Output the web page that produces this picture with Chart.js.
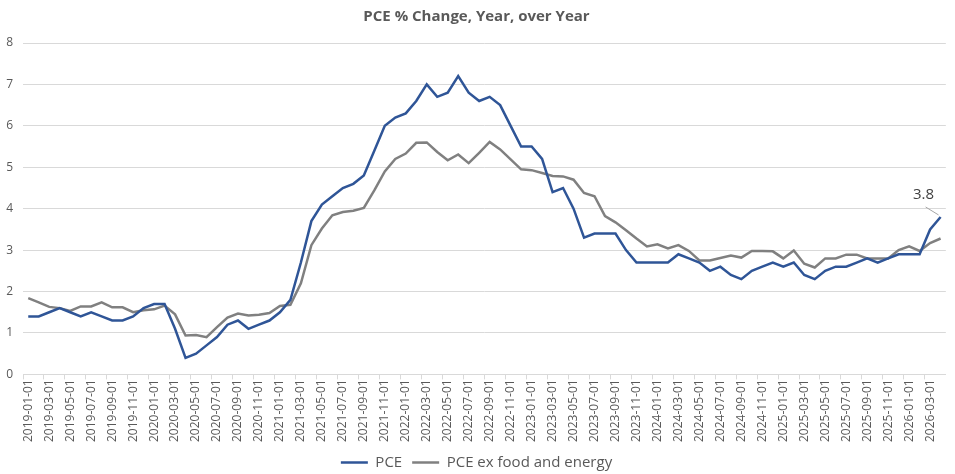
<!DOCTYPE html>
<html>
<head>
<meta charset="utf-8">
<script src="https://cdn.jsdelivr.net/npm/chart.js@4.4.1/dist/chart.umd.min.js"></script>
<style>
  html, body { margin: 0; padding: 0; background: #fff; }
  #wrap { width: 955px; height: 474px; }
</style>
</head>
<body>
<div id="wrap"><canvas id="pceChart"></canvas></div>
<script>
// monthly dates, 2019-01 .. 2026-04
const months = [
    '2019-01-01','2019-02-01','2019-03-01','2019-04-01','2019-05-01','2019-06-01','2019-07-01','2019-08-01','2019-09-01','2019-10-01','2019-11-01','2019-12-01',
    '2020-01-01','2020-02-01','2020-03-01','2020-04-01','2020-05-01','2020-06-01','2020-07-01','2020-08-01','2020-09-01','2020-10-01','2020-11-01','2020-12-01',
    '2021-01-01','2021-02-01','2021-03-01','2021-04-01','2021-05-01','2021-06-01','2021-07-01','2021-08-01','2021-09-01','2021-10-01','2021-11-01','2021-12-01',
    '2022-01-01','2022-02-01','2022-03-01','2022-04-01','2022-05-01','2022-06-01','2022-07-01','2022-08-01','2022-09-01','2022-10-01','2022-11-01','2022-12-01',
    '2023-01-01','2023-02-01','2023-03-01','2023-04-01','2023-05-01','2023-06-01','2023-07-01','2023-08-01','2023-09-01','2023-10-01','2023-11-01','2023-12-01',
    '2024-01-01','2024-02-01','2024-03-01','2024-04-01','2024-05-01','2024-06-01','2024-07-01','2024-08-01','2024-09-01','2024-10-01','2024-11-01','2024-12-01',
    '2025-01-01','2025-02-01','2025-03-01','2025-04-01','2025-05-01','2025-06-01','2025-07-01','2025-08-01','2025-09-01','2025-10-01','2025-11-01','2025-12-01',
    '2026-01-01','2026-02-01','2026-03-01','2026-04-01'
];

const pce = [
    1.4, 1.4, 1.5, 1.6, 1.5, 1.4, 1.5, 1.4, 1.3, 1.3, 1.4, 1.6,
    1.7, 1.7, 1.1, 0.4, 0.5, 0.7, 0.9, 1.2, 1.3, 1.1, 1.2, 1.3,
    1.5, 1.8, 2.7, 3.7, 4.1, 4.3, 4.5, 4.6, 4.8, 5.4, 6.0, 6.2,
    6.3, 6.6, 7.0, 6.7, 6.8, 7.2, 6.8, 6.6, 6.7, 6.5, 6.0, 5.5,
    5.5, 5.2, 4.4, 4.5, 4.0, 3.3, 3.4, 3.4, 3.4, 3.0, 2.7, 2.7,
    2.7, 2.7, 2.9, 2.8, 2.7, 2.5, 2.6, 2.4, 2.3, 2.5, 2.6, 2.7,
    2.6, 2.7, 2.4, 2.3, 2.5, 2.6, 2.6, 2.7, 2.8, 2.7, 2.8, 2.9,
    2.9, 2.9, 3.5, 3.8
];

const pceCore = [
    1.84, 1.74, 1.63, 1.60, 1.53, 1.64, 1.64, 1.74, 1.62, 1.62, 1.50, 1.55,
    1.57, 1.66, 1.45, 0.94, 0.95, 0.90, 1.14, 1.37, 1.47, 1.42, 1.44, 1.48,
    1.65, 1.68, 2.20, 3.12, 3.52, 3.84, 3.92, 3.95, 4.02, 4.44, 4.90, 5.20,
    5.33, 5.59, 5.60, 5.37, 5.17, 5.31, 5.10, 5.35, 5.61, 5.43, 5.19, 4.95,
    4.93, 4.86, 4.79, 4.78, 4.70, 4.38, 4.30, 3.82, 3.67, 3.48, 3.28, 3.09,
    3.14, 3.04, 3.12, 2.98, 2.75, 2.75, 2.81, 2.87, 2.82, 2.98, 2.98, 2.97,
    2.80, 2.99, 2.67, 2.58, 2.80, 2.80, 2.89, 2.89, 2.80, 2.80, 2.80, 3.00,
    3.09, 2.98, 3.17, 3.28
];

const yTicks = [0, 1, 2, 3, 4, 5, 6, 7, 8];

const textColor = '#595959';
const gridColor = '#d9d9d9';
const fontName = "'Open Sans', 'Liberation Sans', sans-serif";

// label on the last PCE point with a short leader line
const lastLabelPlugin = {
    id: 'lastLabel',
    afterDatasetsDraw(chart) {
        const meta = chart.getDatasetMeta(0);
        const pt = meta.data[meta.data.length - 1];
        const value = pce[pce.length - 1];
        const ctx = chart.ctx;
        ctx.save();
        ctx.strokeStyle = '#a6a6a6';
        ctx.lineWidth = 1;
        ctx.beginPath();
        ctx.moveTo(pt.x - 2, pt.y - 2);
        ctx.lineTo(pt.x - 15, pt.y - 10);
        ctx.stroke();
        ctx.fillStyle = '#404040';
        ctx.font = '15px ' + fontName;
        ctx.textAlign = 'center';
        ctx.textBaseline = 'middle';
        ctx.fillText(value.toFixed(1), pt.x - 17, pt.y - 22);
        ctx.restore();
    }
};

const ctxPce = document.getElementById('pceChart').getContext('2d');
const pceChart = new Chart(ctxPce, {
    type: 'line',
    data: {
        labels: months,
        datasets: [{
            label: 'PCE',
            data: pce,
            borderColor: '#2f5597',
            backgroundColor: '#2f5597',
            borderWidth: 2.5,
            pointRadius: 0,
            tension: 0
        }, {
            label: 'PCE ex food and energy',
            data: pceCore,
            borderColor: '#808080',
            backgroundColor: '#808080',
            borderWidth: 2.5,
            pointRadius: 0,
            tension: 0
        }]
    },
    options: {
        responsive: true,
        maintainAspectRatio: false,
        animation: false,
        layout: { padding: { left: 0, right: 2, top: 0, bottom: -6 } },
        plugins: {
            title: {
                display: true,
                text: 'PCE % Change, Year, over Year',
                color: textColor,
                font: { family: fontName, size: 15, weight: 'bold' },
                padding: { top: 8, bottom: 17 }
            },
            legend: {
                position: 'bottom',
                labels: {
                    color: textColor,
                    font: { family: fontName, size: 15 },
                    usePointStyle: true,
                    pointStyle: 'line',
                    pointStyleWidth: 27,
                    padding: 10
                }
            },
            tooltip: { enabled: false }
        },
        scales: {
            x: {
                offset: true,
                border: { color: gridColor },
                afterFit: scale => { scale.height += 3; },
                grid: {
                    offset: true,
                    drawOnChartArea: false,
                    tickLength: 5,
                    color: ctx => (ctx.index % 2 === 0 ? gridColor : 'rgba(0,0,0,0)')
                },
                ticks: {
                    autoSkip: false,
                    minRotation: 90,
                    maxRotation: 90,
                    color: textColor,
                    font: { family: fontName, size: 12 },
                    padding: 0,
                    callback: (val, idx) => (idx % 2 === 0 ? months[idx] : '')
                }
            },
            y: {
                min: 0,
                max: 8,
                afterBuildTicks: scale => {
                    scale.ticks = yTicks.map(v => ({ value: v }));
                },
                afterFit: scale => { scale.width = 23; },
                border: { display: false },
                grid: { color: gridColor, drawTicks: false },
                ticks: {
                    color: textColor,
                    font: { family: fontName, size: 12 },
                    padding: 10
                }
            }
        }
    },
    plugins: [lastLabelPlugin]
});
</script>
</body>
</html>
